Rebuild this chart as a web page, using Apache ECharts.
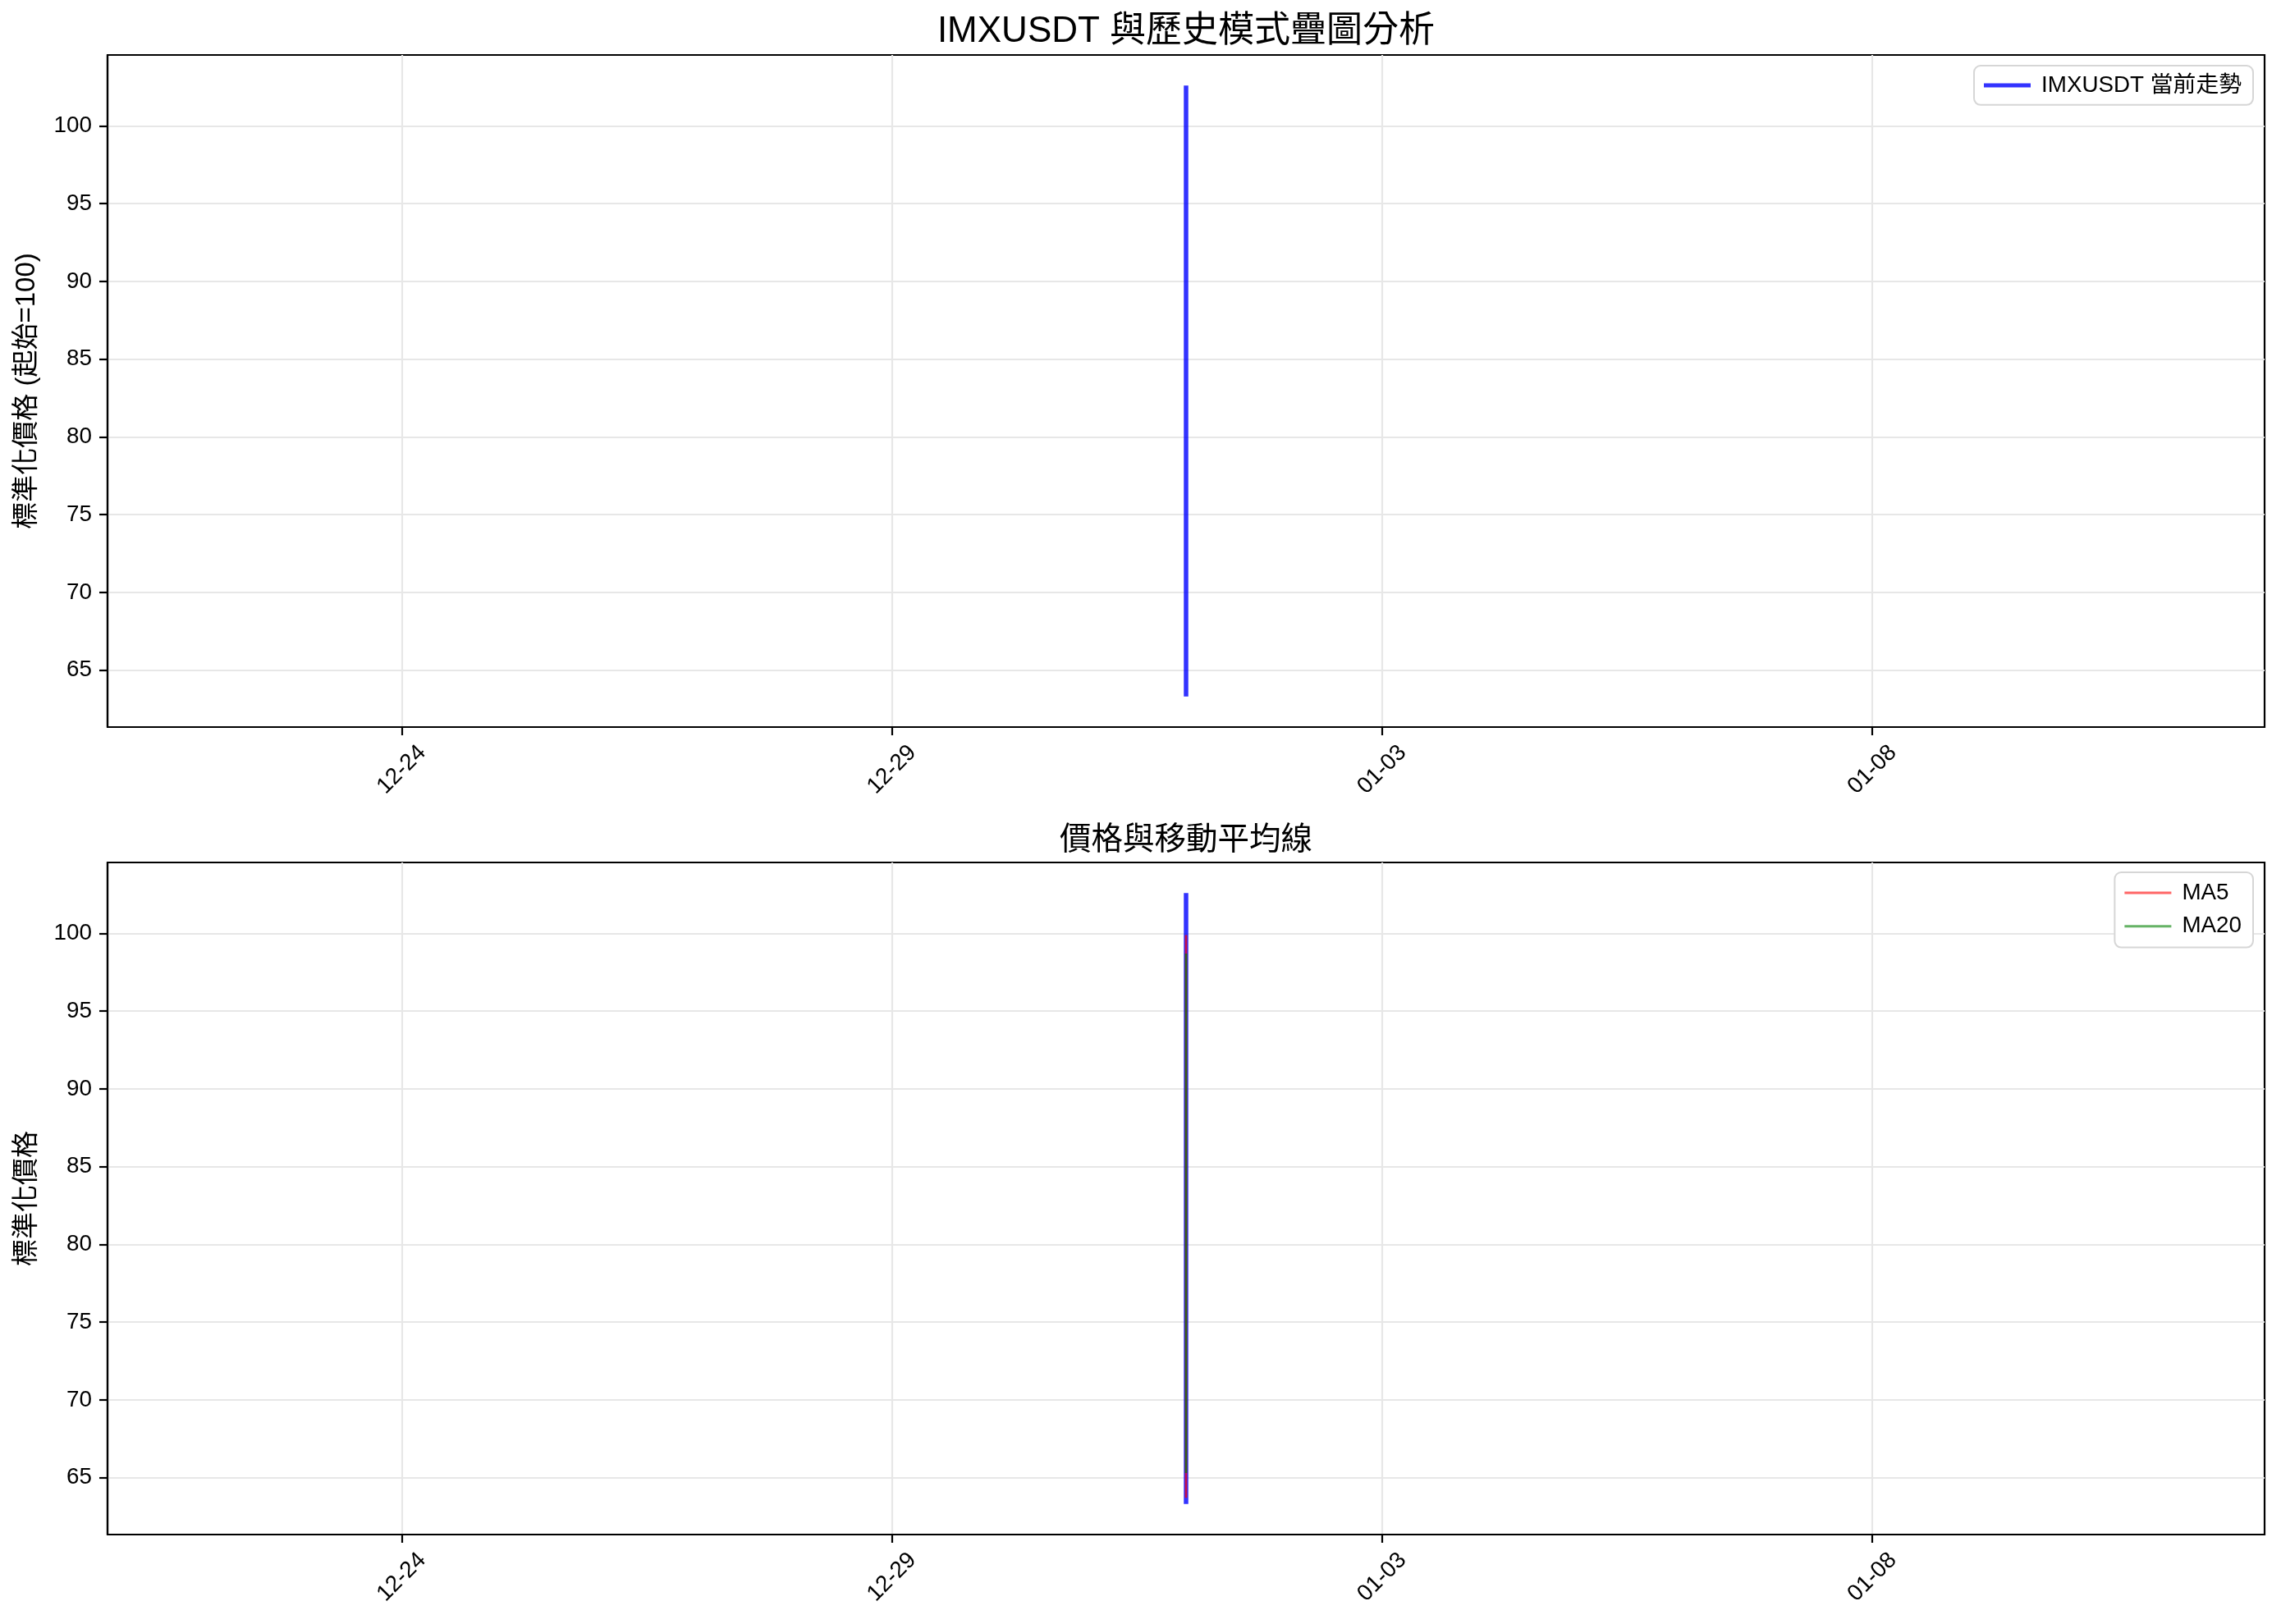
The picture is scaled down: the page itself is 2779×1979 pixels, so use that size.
<!DOCTYPE html>
<html><head><meta charset="utf-8">
<script src="https://cdn.jsdelivr.net/npm/echarts@6/dist/echarts.min.js"></script>
<style>html,body{margin:0;padding:0;background:#fff}#c{width:2779px;height:1979px}</style>
</head><body><div id="c"></div>
<script>
// ---- data ----
const mainTitle = 'IMXUSDT 與歷史模式疊圖分析';
const subTitle = '價格與移動平均線';
const seriesName = 'IMXUSDT 當前走勢';
const xStart = '2024-12-21T00:00:00';
const xEnd = '2025-01-12T00:00:00';
const tickDates = ['2024-12-24T00:00:00', '2024-12-29T00:00:00', '2025-01-03T00:00:00', '2025-01-08T00:00:00'];
const yTicks = [65, 70, 75, 80, 85, 90, 95, 100];
const sampleTime = '2025-01-01T00:00:00';
const priceValues = [100.0, 101.4, 102.6, 101.8, 99.3, 97.6, 98.9, 96.2, 94.8, 92.5, 90.1, 88.7, 86.4, 84.0,
  82.3, 80.6, 78.2, 76.9, 74.5, 72.8, 71.0, 69.4, 67.8, 66.1, 64.6, 63.3, 64.2, 65.0];
const ma5Values = [null, null, null, null, 99.9, 99.6, 99.1, 98.8, 97.4, 95.6, 93.8, 91.7, 89.8, 87.9,
  85.6, 83.8, 82.1, 80.0, 78.4, 76.6, 74.7, 72.9, 71.0, 69.2, 67.8, 66.3, 64.9, 63.7];
const ma20Values = [null, null, null, null, null, null, null, null, null, null, null, null, null, null,
  null, null, null, null, null, 98.7, 94.5, 90.2, 86.0, 81.7, 77.5, 73.4, 69.2, 65.3];

// ---- build ----
const FONT = '"Liberation Sans", "Noto Sans CJK TC", sans-serif';
const t0 = +new Date(sampleTime);
const toPts = arr => arr.map(v => [t0, v]);
const vMin = Math.min(...priceValues), vMax = Math.max(...priceValues);
const pad = (vMax - vMin) * 0.05;
const yMin = vMin - pad, yMax = vMax + pad;
const tickTs = tickDates.map(s => +new Date(s));
const p2 = n => (n < 10 ? '0' : '') + n;
const fmt = v => { const d = new Date(v); return p2(d.getMonth() + 1) + '-' + p2(d.getDate()); };

const LEFT = 131, RIGHT = 20, W = 2779;
const axesCenterX = LEFT + (W - LEFT - RIGHT) / 2;
const grids = [
  { left: LEFT, right: RIGHT, top: 67, height: 819 },
  { left: LEFT, right: RIGHT, top: 1051, height: 819 }
];
function xAx(i) {
  return {
    type: 'value', gridIndex: i, min: +new Date(xStart), max: +new Date(xEnd), scale: true,
    axisLine: { show: true, onZero: false, lineStyle: { color: '#000', width: 2.2 } },
    axisTick: { show: true, length: 10, lineStyle: { color: '#000', width: 2.2 }, customValues: tickTs },
    axisLabel: { customValues: tickTs, formatter: fmt, rotate: 45, align: 'center', verticalAlign: 'middle',
      margin: 52, fontSize: 27.8, color: '#000', fontFamily: FONT, hideOverlap: false },
    splitLine: { show: true, lineStyle: { color: '#e7e7e7', width: 2.2 } }
  };
}
function yAx(i, name) {
  return {
    type: 'value', gridIndex: i, min: yMin, max: yMax, name: name, nameLocation: 'middle', nameGap: 82,
    nameTextStyle: { fontSize: 33, color: '#000', fontFamily: FONT },
    axisLine: { show: true, onZero: false, lineStyle: { color: '#000', width: 2.2 } },
    axisTick: { show: true, length: 10, lineStyle: { color: '#000', width: 2.2 }, customValues: yTicks },
    axisLabel: { customValues: yTicks, margin: 19, fontSize: 27.8, color: '#000', fontFamily: FONT },
    splitLine: { show: true, lineStyle: { color: '#e7e7e7', width: 2.2 } }
  };
}
const chart = echarts.init(document.getElementById('c'), null, { renderer: 'canvas' });
chart.setOption({
  backgroundColor: '#fff',
  animation: false,
  graphic: [
    { type: 'text', x: axesCenterX, y: 39, style: { text: mainTitle, fill: '#000', font: '44px ' + FONT, textAlign: 'center', textVerticalAlign: 'middle' } },
    { type: 'text', x: axesCenterX, y: 1024, style: { text: subTitle, fill: '#000', font: '38.5px ' + FONT, textAlign: 'center', textVerticalAlign: 'middle' } }
  ],
  grid: grids.map(g => Object.assign({ show: true, borderColor: '#000', borderWidth: 2.2, backgroundColor: 'transparent' }, g)),
  xAxis: [xAx(0), xAx(1)],
  yAxis: [yAx(0, '標準化價格 (起始=100)'), yAx(1, '標準化價格')],
  legend: [
    { data: [{ name: seriesName, icon: 'rect' }], orient: 'vertical', right: 34, top: 80,
      itemWidth: 57, itemHeight: 5, padding: [10, 14, 10, 12], itemGap: 10,
      backgroundColor: '#fff', borderColor: '#d6d6d6', borderWidth: 2, borderRadius: 8,
      textStyle: { fontSize: 27.8, color: '#000', fontFamily: FONT, padding: [0, 0, 0, 8] } },
    { data: [{ name: 'MA5', icon: 'rect' }, { name: 'MA20', icon: 'rect' }], orient: 'vertical', right: 34, top: 1063,
      itemWidth: 57, itemHeight: 3, padding: [11, 14, 12, 12], itemGap: 13,
      backgroundColor: '#fff', borderColor: '#d6d6d6', borderWidth: 2, borderRadius: 8,
      textStyle: { fontSize: 27.8, color: '#000', fontFamily: FONT, padding: [0, 0, 0, 8] } }
  ],
  series: [
    { name: seriesName, type: 'line', xAxisIndex: 0, yAxisIndex: 0, data: toPts(priceValues), showSymbol: false, symbol: 'none',
      lineStyle: { color: '#0000ff', width: 5.5, opacity: 0.8 }, itemStyle: { color: 'rgba(0,0,255,0.8)' } },
    { name: '價格', type: 'line', xAxisIndex: 1, yAxisIndex: 1, data: toPts(priceValues), showSymbol: false, symbol: 'none',
      lineStyle: { color: '#0000ff', width: 5.5, opacity: 0.8 }, itemStyle: { color: 'rgba(0,0,255,0.8)' } },
    { name: 'MA5', type: 'line', xAxisIndex: 1, yAxisIndex: 1, data: toPts(ma5Values), showSymbol: false, symbol: 'none',
      lineStyle: { color: '#ff0000', width: 2.8, opacity: 0.7 }, itemStyle: { color: 'rgba(255,0,0,0.6)' } },
    { name: 'MA20', type: 'line', xAxisIndex: 1, yAxisIndex: 1, data: toPts(ma20Values), showSymbol: false, symbol: 'none',
      lineStyle: { color: '#008000', width: 2.8, opacity: 0.7 }, itemStyle: { color: 'rgba(0,128,0,0.6)' } }
  ]
});
</script></body></html>
